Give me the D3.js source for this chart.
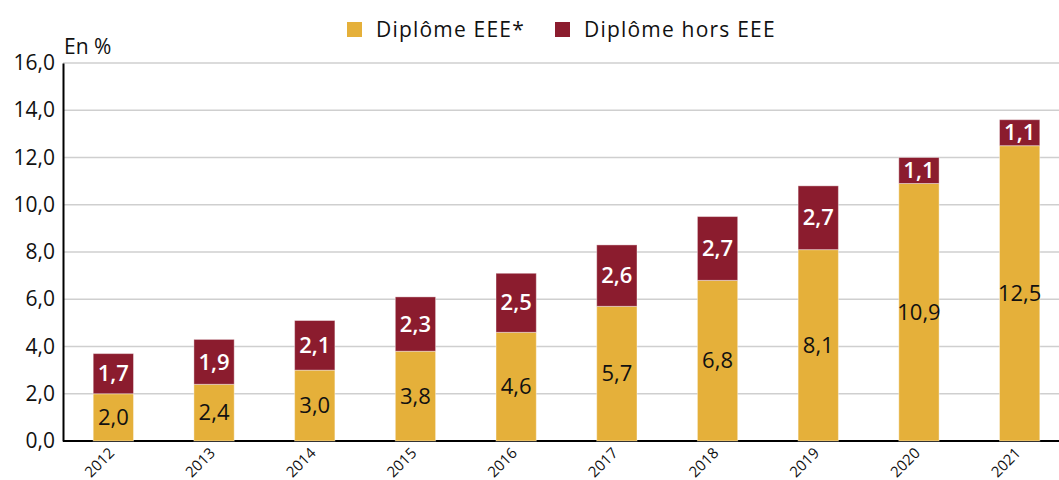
<!DOCTYPE html>
<html>
<head>
<meta charset="utf-8">
<script src="https://cdn.jsdelivr.net/npm/d3@7"></script>
<style>
  body { margin: 0; background: #fff; }
  text { font-family: "Open Sans", "Noto Sans", sans-serif; }
</style>
</head>
<body>
<svg id="chart" width="1059" height="480"></svg>
<script>
// data
const years = ["2012", "2013", "2014", "2015", "2016", "2017", "2018", "2019", "2020", "2021"];
const eee = [2.0, 2.4, 3.0, 3.8, 4.6, 5.7, 6.8, 8.1, 10.9, 12.5];
const horsEee = [1.7, 1.9, 2.1, 2.3, 2.5, 2.6, 2.7, 2.7, 1.1, 1.1];
const yTicks = [0, 2, 4, 6, 8, 10, 12, 14, 16];
const seriesNames = ["Diplôme EEE*", "Diplôme hors EEE"];
const colors = ["#E5B03A", "#8B1C2E"];

const svg = d3.select("#chart");
const width = 1059;
const marginLeft = 63, plotTop = 63, plotBottom = 441;

const fmt = v => v.toFixed(1).replace(".", ",");

let y = d3.scaleLinear().domain([0, 16]).range([plotBottom, plotTop]);
let x = d3.scaleBand().domain(years).range([marginLeft, marginLeft + 1007]).paddingInner(0.6).paddingOuter(0.3);

// gridlines
svg.append("g")
    .selectAll("line")
    .data(yTicks.filter(d => d > 0))
    .join("line")
    .attr("x1", marginLeft).attr("x2", width)
    .attr("y1", d => y(d)).attr("y2", d => y(d))
    .attr("stroke", "#cfcfcf")
    .attr("stroke-width", 1.5);

// y axis
let yAxis = d3.axisLeft(y).tickValues(yTicks).tickFormat(fmt).tickSize(0).tickPadding(8);
let gy = svg.append("g").attr("transform", "translate(" + marginLeft + ",0)").call(yAxis);
gy.select(".domain").attr("stroke", "#000").attr("stroke-width", 2);
gy.selectAll("text").style("font-size", "21px").attr("fill", "#111");

// x axis
let xAxis = d3.axisBottom(x).tickSize(0).tickPadding(0);
let gx = svg.append("g").attr("transform", "translate(0," + plotBottom + ")").call(xAxis);
gx.select(".domain").attr("d", "M" + marginLeft + ",0H" + width).attr("stroke", "#000").attr("stroke-width", 2);
gx.selectAll("text")
    .style("font-size", "15px")
    .attr("fill", "#111")
    .attr("text-anchor", "end")
    .attr("y", 0)
    .attr("dy", 0)
    .attr("transform", "translate(2,13) rotate(-45)");

// stacked bars
const rows = years.map((yr, i) => ({ year: yr, a: eee[i], b: horsEee[i] }));

let bars = svg.append("g");
bars.selectAll("rect.a")
    .data(rows)
    .join("rect")
    .attr("class", "a")
    .attr("x", d => x(d.year))
    .attr("width", x.bandwidth())
    .attr("y", d => y(d.a))
    .attr("height", d => y(0) - y(d.a))
    .attr("fill", colors[0])
    .attr("stroke", "#fff").attr("stroke-opacity", 0.4);

bars.selectAll("rect.b")
    .data(rows)
    .join("rect")
    .attr("class", "b")
    .attr("x", d => x(d.year))
    .attr("width", x.bandwidth())
    .attr("y", d => y(d.a + d.b))
    .attr("height", d => y(d.a) - y(d.a + d.b))
    .attr("fill", colors[1])
    .attr("stroke", "#fff").attr("stroke-opacity", 0.4);

// value labels
bars.selectAll("text.a")
    .data(rows)
    .join("text")
    .attr("class", "a")
    .attr("x", d => x(d.year) + x.bandwidth() / 2)
    .attr("y", d => y(d.a / 2))
    .attr("dy", "0.35em")
    .attr("text-anchor", "middle")
    .style("font-size", "22px")
    .attr("fill", "#111")
    .text(d => fmt(d.a));

bars.selectAll("text.b")
    .data(rows)
    .join("text")
    .attr("class", "b")
    .attr("x", d => x(d.year) + x.bandwidth() / 2)
    .attr("y", d => y(d.a + d.b / 2))
    .attr("dy", "0.35em")
    .attr("text-anchor", "middle")
    .style("font-size", "22px")
    .style("font-weight", "600")
    .attr("fill", "#fff")
    .text(d => fmt(d.b));

// unit label
svg.append("text")
    .attr("x", 64).attr("y", 54)
    .style("font-size", "21px")
    .attr("fill", "#111")
    .text("En %");

// legend
const legendX = [347, 555];
let legend = svg.append("g");
seriesNames.forEach((name, i) => {
    legend.append("rect")
        .attr("x", legendX[i]).attr("y", 22)
        .attr("width", 15).attr("height", 15)
        .attr("fill", colors[i]);
    legend.append("text")
        .attr("x", legendX[i] + 29).attr("y", 30)
        .attr("dy", "0.35em")
        .style("font-size", "21px")
        .style("letter-spacing", "1.2px")
        .attr("fill", "#111")
        .text(name);
});
</script>
</body>
</html>
